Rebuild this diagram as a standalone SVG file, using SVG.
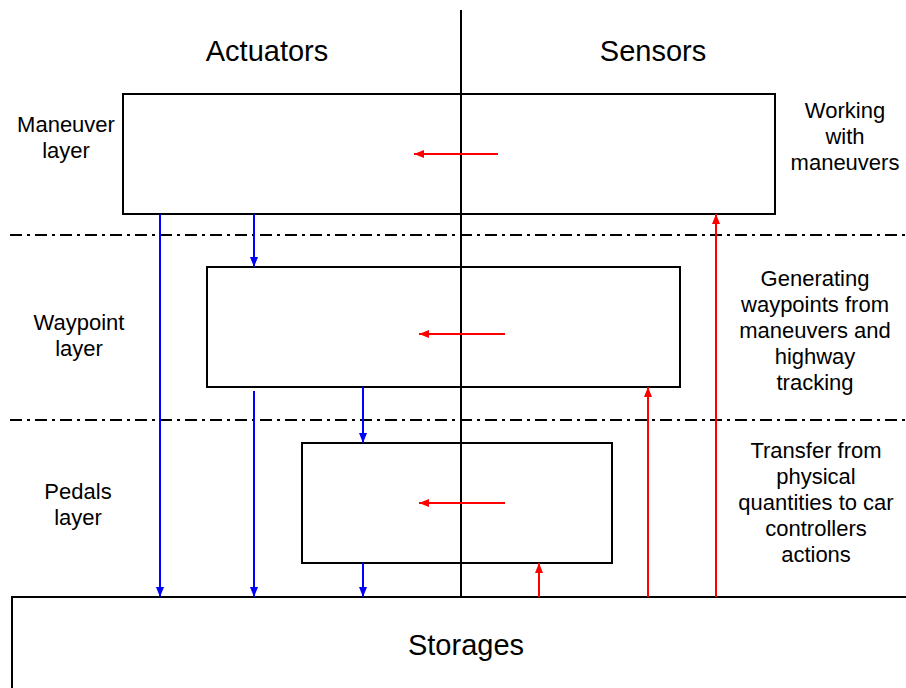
<svg xmlns="http://www.w3.org/2000/svg" width="906" height="688" viewBox="0 0 906 688">
<defs>
<marker id="hb" viewBox="0 0 10 10" refX="10" refY="5" markerWidth="10" markerHeight="10" markerUnits="userSpaceOnUse" orient="auto"><path d="M0,1 L10,5 L0,9 z" fill="#0000ff"/></marker>
<marker id="hr" viewBox="0 0 10 10" refX="10" refY="5" markerWidth="10" markerHeight="10" markerUnits="userSpaceOnUse" orient="auto"><path d="M0,1 L10,5 L0,9 z" fill="#ff0000"/></marker>
</defs>
<style>
.box{fill:none;stroke:#000;stroke-width:2}
.dd{stroke:#000;stroke-width:2;stroke-dasharray:12,5,3,5}
.t{font-family:"Liberation Sans",Arial,sans-serif;font-size:22px;fill:#000;text-anchor:middle}
.big{font-size:29px}
.b{stroke:#0000ff;stroke-width:2;fill:none;marker-end:url(#hb)}
.r{stroke:#ff0000;stroke-width:2;fill:none;marker-end:url(#hr)}
</style>
<rect width="906" height="688" fill="#fff"/>
<g id="grid">
<line class="dd" x1="10" y1="235" x2="906" y2="235"/>
<line class="dd" x1="10" y1="420" x2="906" y2="420"/>
<line x1="461" y1="10" x2="461" y2="597" stroke="#000" stroke-width="2"/>
</g>
<g id="maneuver"><rect class="box" x="123" y="94" width="652" height="120"/></g>
<g id="waypoint"><rect class="box" x="207" y="267" width="473" height="120"/></g>
<g id="pedals"><rect class="box" x="302" y="443" width="310" height="120"/></g>
<g id="storages"><rect class="box" x="12" y="597" width="900" height="100"/>
<text class="t big" x="466" y="655">Storages</text></g>
<g id="labels">
<text class="t big" x="267" y="61">Actuators</text>
<text class="t big" x="653" y="61">Sensors</text>
<text class="t" x="66" y="132">Maneuver</text>
<text class="t" x="66" y="158">layer</text>
<text class="t" x="79" y="330">Waypoint</text>
<text class="t" x="79" y="356">layer</text>
<text class="t" x="78" y="499">Pedals</text>
<text class="t" x="78" y="525">layer</text>
<text class="t" x="845" y="118">Working</text>
<text class="t" x="845" y="144">with</text>
<text class="t" x="845" y="170">maneuvers</text>
<text class="t" x="815" y="286">Generating</text>
<text class="t" x="815" y="312">waypoints from</text>
<text class="t" x="815" y="338">maneuvers and</text>
<text class="t" x="815" y="364">highway</text>
<text class="t" x="815" y="390">tracking</text>
<text class="t" x="816" y="458">Transfer from</text>
<text class="t" x="816" y="484">physical</text>
<text class="t" x="816" y="510">quantities to car</text>
<text class="t" x="816" y="536">controllers</text>
<text class="t" x="816" y="562">actions</text>
</g>
<g id="connectors">
<line class="b" x1="160" y1="214" x2="160" y2="597"/>
<line class="b" x1="254" y1="214" x2="254" y2="267"/>
<line class="b" x1="254" y1="391" x2="254" y2="597"/>
<line class="b" x1="363" y1="387" x2="363" y2="443"/>
<line class="b" x1="363" y1="563" x2="363" y2="597"/>
<line class="r" x1="539" y1="597" x2="539" y2="563"/>
<line class="r" x1="648" y1="597" x2="648" y2="387"/>
<line class="r" x1="716" y1="597" x2="716" y2="214"/>
<line class="r" x1="498" y1="154" x2="414" y2="154"/>
<line class="r" x1="505" y1="334" x2="419" y2="334"/>
<line class="r" x1="505" y1="503" x2="419" y2="503"/>
</g>
</svg>
